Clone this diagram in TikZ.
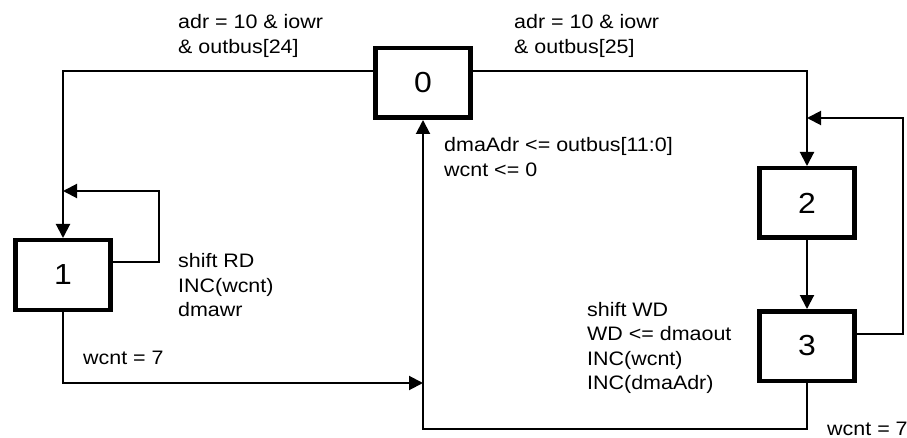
\documentclass[tikz,border=0pt]{standalone}
\usepackage{fontspec}
\setmainfont{Liberation Sans}[FakeStretch=1.1]
\usetikzlibrary{arrows.meta}
\newcommand{\stk}[1]{\begin{tabular}[t]{@{}l@{}}#1\end{tabular}}
\begin{document}
\begin{tikzpicture}[x=1pt,y=-1pt,
  state/.style={draw, line width=4.5pt, minimum width=95pt, minimum height=69.5pt, inner sep=0pt, font=\fontsize{29}{30}\selectfont},
  edge/.style={line width=2pt, -{Triangle[length=14pt,width=14pt]}},
  lbl/.style={anchor=base west, inner sep=0pt, font=\fontsize{19.5}{24.5}\selectfont}]
\useasboundingbox (0,0) rectangle (907,438);
\node[state] (n0) at (423,83) {0};
\node[state] (n1) at (63,275) {1};
\node[state] (n2) at (807,203) {2};
\node[state] (n3) at (807,346) {3};
% coordinates
\coordinate (l1a) at (159,191);
\coordinate (l3a) at (903,118);
\coordinate (b3) at (423,429);
\coordinate (m1) at (423,383);
% edges
\draw[edge] ([yshift=12pt]n0.west) -| (n1.north);
\draw[edge] ([yshift=12pt]n0.east) -| (n2.north);
\draw[edge] ([yshift=13pt]n1.east) -| (l1a) -- (n1.north |- l1a);
\draw[edge] ([yshift=12pt]n3.east) -| (l3a) -- (n3.north |- l3a);
\draw[edge] (n2.south) -- (n3.north);
\draw[edge] (n3.south) |- (b3) -- (n0.south);
\draw[edge] (n1.south) |- (m1);
% labels
\node[lbl] (t1) at (178,29) {\stk{adr = 10 \& iowr\\\& outbus[24]}};
\node[lbl] (t2) at (514,29) {\stk{adr = 10 \& iowr\\\& outbus[25]}};
\node[lbl] (t3) at (444,152) {\stk{dmaAdr <= outbus[11:0]\\wcnt <= 0}};
\node[lbl] (t4) at (178,268) {\stk{shift RD\\INC(wcnt)\\dmawr}};
\node[lbl] (t5) at (83,364) {wcnt = 7};
\node[lbl] (t6) at (587,316) {\stk{shift WD\\WD <= dmaout\\INC(wcnt)\\INC(dmaAdr)}};
\node[lbl] (t7) at (827,435) {wcnt = 7};
\end{tikzpicture}
\end{document}
